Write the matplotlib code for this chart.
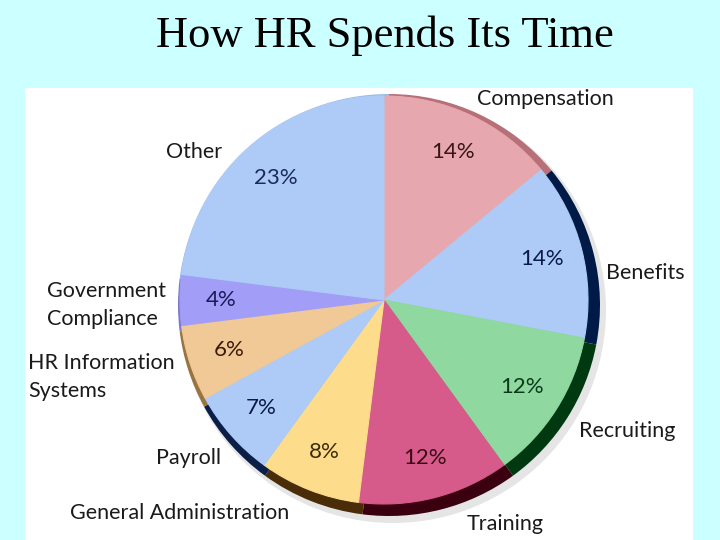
import numpy as np
import matplotlib.pyplot as plt
from matplotlib.patches import Circle, Rectangle

plt.rcParams["font.family"] = ["Lato", "DejaVu Sans"]

# slices, clockwise from the top
categories = ["Compensation", "Benefits", "Recruiting", "Training",
              "General Administration", "Payroll", "HR Information\nSystems",
              "Government\nCompliance", "Other"]
shares = [14, 14, 12, 12, 8, 7, 6, 4, 23]

face_colors = ["#E6A8AE", "#ADCBF6", "#8FD9A1", "#D65A8A", "#FDDC8C",
               "#ADCBF6", "#F0C996", "#A29EF8", "#ADCBF6"]
rim_colors = ["#B87078", "#001A48", "#003810", "#3A0010", "#4A2C08",
              "#0A1E48", "#9A7440", "#7A78C8", "#9ABAE8"]
pct_colors = ["#3A1418", "#0A1A48", "#0A3A1A", "#3A0A12", "#3A2A0A",
              "#0A1A48", "#3A1A0A", "#1A1A5A", "#1A2A5A"]

# where the names sit (pixels from top-left) and how they line up
label_pos = [(545, 99), (645, 273), (627, 431), (505, 524), (180, 513),
             (189, 458), (28, 377), (47, 305), (194, 152)]
label_ha = ["center", "center", "center", "center", "center",
            "center", "left", "left", "center"]

W, H = 720, 540
fig = plt.figure(figsize=(7.2, 5.4), dpi=100)
fig.patch.set_facecolor("#CCFFFF")
ax = fig.add_axes([0, 0, 1, 1])


def py(y):
    return H - y


# white picture panel
ax.add_patch(Rectangle((25, 0), 668, H - 88, color="white", lw=0, zorder=0))

cx, cy, r = 389, py(305), 211

# soft shadow + dark rim underneath, face on top shifted up-left
ax.add_patch(Circle((cx + 4, cy - 5), r + 2, color="#999999", alpha=0.25, lw=0, zorder=1))
ax.pie(shares, colors=rim_colors, radius=r, center=(cx, cy), startangle=90,
       counterclock=False, frame=True, wedgeprops=dict(linewidth=0, zorder=2))
wedges, texts, autotexts = ax.pie(
    shares, colors=face_colors, radius=r - 7, center=(cx - 5, cy + 5),
    startangle=90, counterclock=False, frame=True, autopct="%d%%",
    pctdistance=0.8, wedgeprops=dict(linewidth=0.8, zorder=3),
    textprops=dict(fontsize=16, zorder=4))
for w in wedges:
    # hide the hairline seams between slices
    w.set_edgecolor(w.get_facecolor())
for t, c in zip(autotexts, pct_colors):
    t.set_color(c)

for name, (x, y), ha in zip(categories, label_pos, label_ha):
    ax.text(x, py(y), name, ha=ha, va="center", fontsize=15.5,
            color="#1A1A1A", linespacing=1.55, zorder=5)

ax.set_xlim(0, W)
ax.set_ylim(0, H)
ax.set_aspect("auto")
ax.axis("off")

fig.text(385 / W, 1 - 36 / H, "How HR Spends Its Time", ha="center", va="center",
         fontsize=32, family="Liberation Serif", color="black")

fig.savefig("out.png", dpi=100, facecolor=fig.get_facecolor())
